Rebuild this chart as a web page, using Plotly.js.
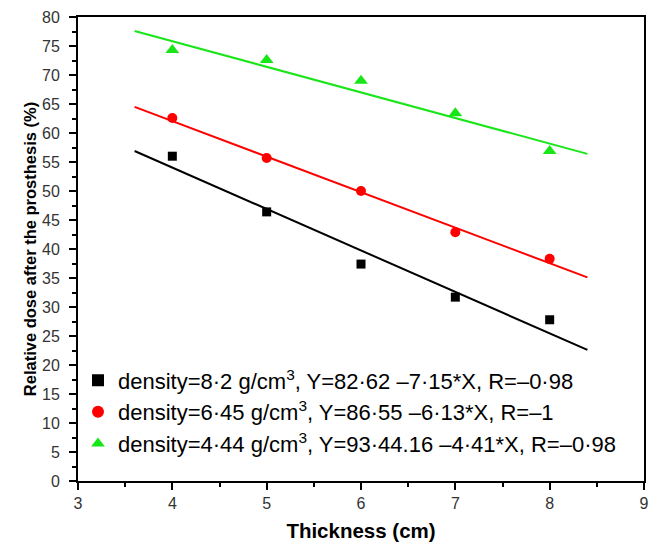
<!DOCTYPE html>
<html>
<head>
<meta charset="utf-8">
<script src="https://cdn.plot.ly/plotly-3.0.1.min.js"></script>
<style>html,body{margin:0;padding:0;background:#fff;}#chart{width:650px;height:547px;}</style>
</head>
<body>
<div id="chart"></div>
<script>
// Data
const thickness = [4, 5, 6, 7, 8];
const dose82 = [56.0, 46.4, 37.4, 31.7, 27.8];   // density 8.2 g/cm3
const dose645 = [62.6, 55.7, 50.0, 42.9, 38.3];  // density 6.45 g/cm3
const dose444 = [74.3, 72.6, 69.0, 63.4, 56.9];  // density 4.44 g/cm3

// Fitted lines (end points as drawn)
const fitX = [3.6, 8.4];
const fit82 = [56.9, 22.6];
const fit645 = [64.5, 35.1];
const fit444 = [77.6, 56.4];

const names = [
  "density=8·2 g/cm<sup>3</sup>, Y=82·62 –7·15*X, R=–0·98",
  "density=6·45 g/cm<sup>3</sup>, Y=86·55 –6·13*X, R=–1",
  "density=4·44 g/cm<sup>3</sup>, Y=93·44.16 –4·41*X, R=–0·98"
];
const colors = ["#000000", "#ff0000", "#19e619"];

const traces = [
  {x: fitX, y: fit82, mode: "lines", line: {color: colors[0], width: 2}, showlegend: false, hoverinfo: "skip"},
  {x: fitX, y: fit645, mode: "lines", line: {color: colors[1], width: 2}, showlegend: false, hoverinfo: "skip"},
  {x: fitX, y: fit444, mode: "lines", line: {color: colors[2], width: 2}, showlegend: false, hoverinfo: "skip"},
  {x: thickness, y: dose82, mode: "markers", name: names[0], marker: {symbol: "square", size: 9, color: colors[0]}},
  {x: thickness, y: dose645, mode: "markers", name: names[1], marker: {symbol: "circle", size: 10, color: colors[1]}},
  {x: thickness, y: dose444, mode: "markers", name: names[2], marker: {symbol: "triangle-up", size: 12, color: colors[2]}}
];

const font = "Liberation Sans, Arial, sans-serif";
const layout = {
  width: 650, height: 547,
  margin: {l: 78, r: 6, t: 17, b: 66},
  paper_bgcolor: "#fff", plot_bgcolor: "#fff",
  font: {family: font, color: "#000"},
  showlegend: true,
  legend: {x: 0.0, y: 0.262, xanchor: "left", yanchor: "top", bgcolor: "rgba(0,0,0,0)",
           font: {size: 22, family: font, color: "#000"}, itemsizing: "constant", tracegroupgap: 0},
  xaxis: {
    range: [3, 9], dtick: 1, tick0: 3,
    showgrid: false, zeroline: false,
    showline: true, linecolor: "#000", linewidth: 2, mirror: true,
    ticks: "outside", ticklen: 7, tickwidth: 2, tickcolor: "#000",
    minor: {ticks: "outside", dtick: 0.5, ticklen: 4, tickwidth: 2, tickcolor: "#000"},
    tickfont: {size: 16, color: "#333", family: font},
    ticklabeloverflow: "allow",
    title: {text: "<b>Thickness (cm)</b>", font: {size: 20.5, family: font, color: "#000"}, standoff: 12}
  },
  yaxis: {
    range: [0, 80], dtick: 5, tick0: 0,
    showgrid: false, zeroline: false,
    showline: true, linecolor: "#000", linewidth: 2, mirror: true,
    ticks: "outside", ticklen: 7, tickwidth: 2, tickcolor: "#000",
    minor: {ticks: "outside", dtick: 2.5, ticklen: 4, tickwidth: 2, tickcolor: "#000"},
    tickfont: {size: 16, color: "#333", family: font},
    ticklabelstandoff: 6,
    title: {text: "<b>Relative dose after the prosthesis (%)</b>", font: {size: 16.5, family: font, color: "#000"}, standoff: 1}
  }
};

Plotly.newPlot("chart", traces, layout, {displayModeBar: false, staticPlot: true});
</script>
</body>
</html>
